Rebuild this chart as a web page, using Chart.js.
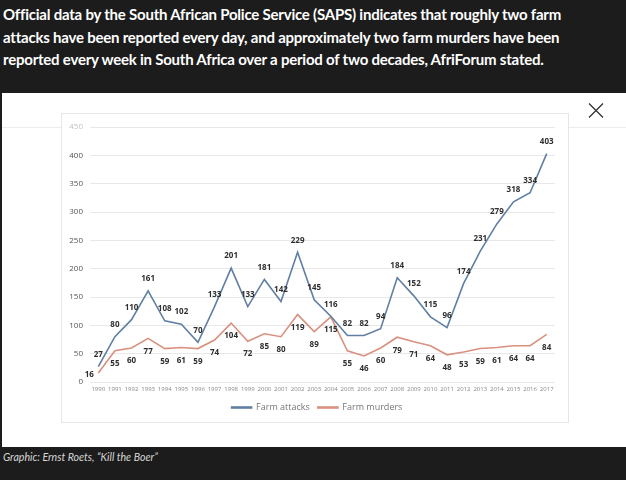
<!DOCTYPE html>
<html>
<head>
<meta charset="utf-8">
<script src="https://cdn.jsdelivr.net/npm/chart.js@4.4.1/dist/chart.umd.min.js"></script>
<style>
  html, body { margin:0; padding:0; }
  body { width:626px; height:480px; background:#1c1c1c; position:relative; overflow:hidden; font-family: Lato, "Noto Sans", sans-serif; }
  #title { position:absolute; left:3px; top:3px; color:#fff; font-weight:700; font-size:15px; line-height:22.5px; letter-spacing:-0.22px; white-space:nowrap; }
  #panel { position:absolute; left:2px; top:93px; width:624px; height:354px; background:#fff; }
  .faint { position:absolute; height:1px; background:#ececec; top:127px; }
  #card { position:absolute; left:61px; top:113px; width:506px; height:308px; border:1px solid #e6e6e6; background:#fff; }
  #wrap { position:absolute; left:61px; top:113px; width:507px; height:309px; }
  #close { position:absolute; left:588px; top:103px; width:16px; height:15px; }
  #caption { position:absolute; left:3px; top:451px; color:#d6d6d6; font-style:italic; font-size:10.6px; white-space:nowrap; }
</style>
</head>
<body>
<div id="title">Official data by the South African Police Service (SAPS) indicates that roughly two farm<br>attacks have been reported every day, and approximately two farm murders have been<br>reported every week in South Africa over a period of two decades, AfriForum stated.</div>
<div id="panel"></div>
<div class="faint" style="left:2px;width:59px;"></div>
<div class="faint" style="left:568px;width:58px;"></div>
<div id="card"></div>
<div id="wrap"><canvas id="c" width="507" height="309"></canvas></div>
<svg id="close" viewBox="0 0 16 15"><path d="M1 0.5 L15 14.5 M15 0.5 L1 14.5" stroke="#333" stroke-width="1.3" fill="none"/></svg>
<div id="caption">Graphic: Ernst Roets, “Kill the Boer”</div>
<script>
const years = ["1990","1991","1992","1993","1994","1995","1996","1997","1998","1999","2000","2001","2002","2003","2004","2005","2006","2007","2008","2009","2010","2011","2012","2013","2014","2015","2016","2017"];
const farmAttacks = [27,80,110,161,108,102,70,133,201,133,181,142,229,145,116,82,82,94,184,152,115,96,174,231,279,318,334,403];
const farmMurders = [16,55,60,77,59,61,59,74,104,72,85,80,119,89,115,55,46,60,79,71,64,48,53,59,61,64,64,84];
const yTicks = [0,50,100,150,200,250,300,350,400,450];

const labelPlugin = {
  id: 'pointLabels',
  afterDatasetsDraw(chart) {
    const ctx = chart.ctx;
    ctx.save();
    ctx.font = 'bold 8px "Open Sans", Lato, sans-serif';
    ctx.fillStyle = '#2e2e2e';
    ctx.textAlign = 'center';
    ctx.textBaseline = 'middle';
    chart.data.datasets.forEach((ds, di) => {
      const meta = chart.getDatasetMeta(di);
      meta.data.forEach((pt, i) => {
        let dx = 0, dy = di === 0 ? -12 : 13;
        if (di === 1 && i === 0) { dx = -9; dy = 2; }
        ctx.fillText(String(ds.data[i]), pt.x + dx, pt.y + dy);
      });
    });
    ctx.restore();
  }
};

const legendShift = {
  id: 'legendShift',
  afterLayout(chart) {
    if (chart.legend) { chart.legend.left += 9; chart.legend.right += 9; }
  }
};

new Chart(document.getElementById('c'), {
  type: 'line',
  data: {
    labels: years,
    datasets: [
      { label: 'Farm attacks', data: farmAttacks, borderColor: '#5f7fa3', backgroundColor: '#5f7fa3', borderWidth: 1.6, pointRadius: 0, tension: 0 },
      { label: 'Farm murders', data: farmMurders, borderColor: '#d9917f', backgroundColor: '#d9917f', borderWidth: 1.6, pointRadius: 0, tension: 0 }
    ]
  },
  options: {
    responsive: false,
    animation: false,
    devicePixelRatio: 1,
    layout: { padding: { top: 14, right: 13, bottom: 0, left: 0 } },
    plugins: {
      legend: {
        position: 'bottom',
        labels: { boxWidth: 20, boxHeight: 1, padding: 8, color: '#777', font: { size: 9, family: '"Open Sans", sans-serif' } }
      },
      tooltip: { enabled: false }
    },
    scales: {
      x: {
        offset: true,
        grid: { display: false, drawTicks: false },
        border: { display: false },
        ticks: { color: '#888', font: { size: 6, family: '"Open Sans", sans-serif' }, maxRotation: 0, autoSkip: false, padding: 4 },
        afterFit(s) { s.height = 13; }
      },
      y: {
        min: 0, max: 450,
        afterBuildTicks(s) { s.ticks = yTicks.map(v => ({ value: v })); },
        grid: { color: '#e8e8e8', drawTicks: false, lineWidth: 1 },
        border: { display: false },
        ticks: { padding: 7, color: (c) => c.tick.value === 450 ? '#c4c4c4' : '#555', font: { size: 8, family: '"Open Sans", sans-serif' } },
        afterFit(s) { s.width = 29; }
      }
    }
  },
  plugins: [labelPlugin, legendShift]
});
</script>
</body>
</html>
